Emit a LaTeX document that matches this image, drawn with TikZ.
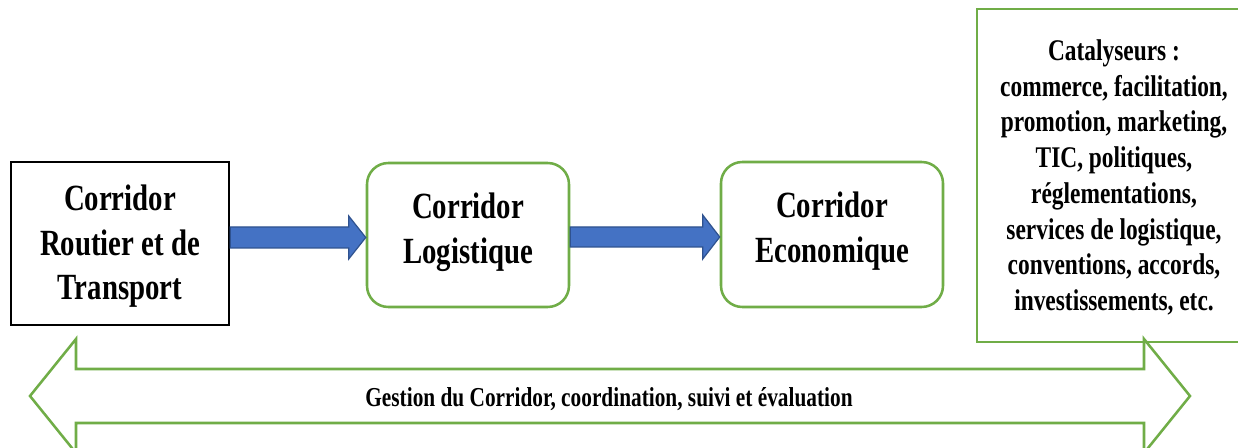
\documentclass[tikz,border=0pt]{standalone}
\usepackage{fontspec}
\setmainfont{Liberation Serif}[FakeStretch=0.78]
\usetikzlibrary{calc}
\definecolor{ogreen}{HTML}{70AD47}
\definecolor{oblue}{HTML}{4472C4}
\definecolor{oblueline}{HTML}{2F528F}
\begin{document}
\begin{tikzpicture}[x=0.75pt,y=-0.75pt,
  blackbox/.style={draw=black, line width=2pt, inner sep=0pt},
  greenbox/.style={draw=ogreen, line width=1.9pt, rounded corners=16pt, inner sep=0pt},
  catbox/.style={draw=ogreen, line width=1.9pt, inner sep=0pt},
  boxtext/.style={font=\fontsize{27.7}{33.4}\selectfont\bfseries, align=center, inner sep=0pt},
  cattext/.style={font=\fontsize{22.5}{26.8}\selectfont\bfseries, align=center, inner sep=0pt},
  gesttext/.style={font=\fontsize{20.5}{24}\selectfont\bfseries, inner sep=0pt},
  flowarrow/.style={fill=oblue, draw=oblueline, line width=0.9pt, line join=miter},
  bigarrow/.style={draw=ogreen, line width=1.9pt, fill=white, line join=miter},
]
\clip (0,0) rectangle (1238,448);
\fill[white] (0,0) rectangle (1238,448);

% boxes
\node[blackbox, minimum width=163.5pt, minimum height=122.25pt] (road) at (120,243.5) {};
\node[boxtext] (roadtxt) at (120,246.5) {Corridor\\Routier et de\\Transport};

\node[greenbox, minimum width=151.5pt, minimum height=108pt] (logi) at (468,235) {};
\node[boxtext] (logitxt) at (468,232) {Corridor\\Logistique};

\node[greenbox, minimum width=166.5pt, minimum height=108.75pt] (econ) at (832,234.5) {};
\node[boxtext] (econtxt) at (832,231) {Corridor\\Economique};

\node[catbox, minimum width=206.25pt, minimum height=249.75pt] (cat) at (1114.5,175.5) {};
\node[cattext] (cattxt) at (1114,177.5) {Catalyseurs :\\commerce, facilitation,\\promotion, marketing,\\TIC, politiques,\\réglementations,\\services de logistique,\\conventions, accords,\\investissements, etc.};

% blue arrows
\draw[flowarrow] (road.east |- 0,227) -- ($(logi.west |- 0,227)+(-17,0)$) -- ($(logi.west |- 0,216)+(-17,0)$)
  -- (logi.west |- 0,237.5) -- ($(logi.west |- 0,259)+(-17,0)$) -- ($(logi.west |- 0,248)+(-17,0)$)
  -- (road.east |- 0,248) -- cycle;
\draw[flowarrow] (logi.east |- 0,227) -- ($(econ.west |- 0,227)+(-17,0)$) -- ($(econ.west |- 0,215)+(-17,0)$)
  -- (econ.west |- 0,237) -- ($(econ.west |- 0,259)+(-17,0)$) -- ($(econ.west |- 0,247)+(-17,0)$)
  -- (logi.east |- 0,247) -- cycle;

% double arrow
\draw[bigarrow] (30,396) -- (76,339) -- (76,369) -- (1144,369) -- (1144,339) -- (1190,396)
  -- (1144,453) -- (1144,423) -- (76,423) -- (76,453) -- cycle;
\node[gesttext] (gest) at (609,399) {Gestion du Corridor, coordination, suivi et évaluation};
\end{tikzpicture}
\end{document}
